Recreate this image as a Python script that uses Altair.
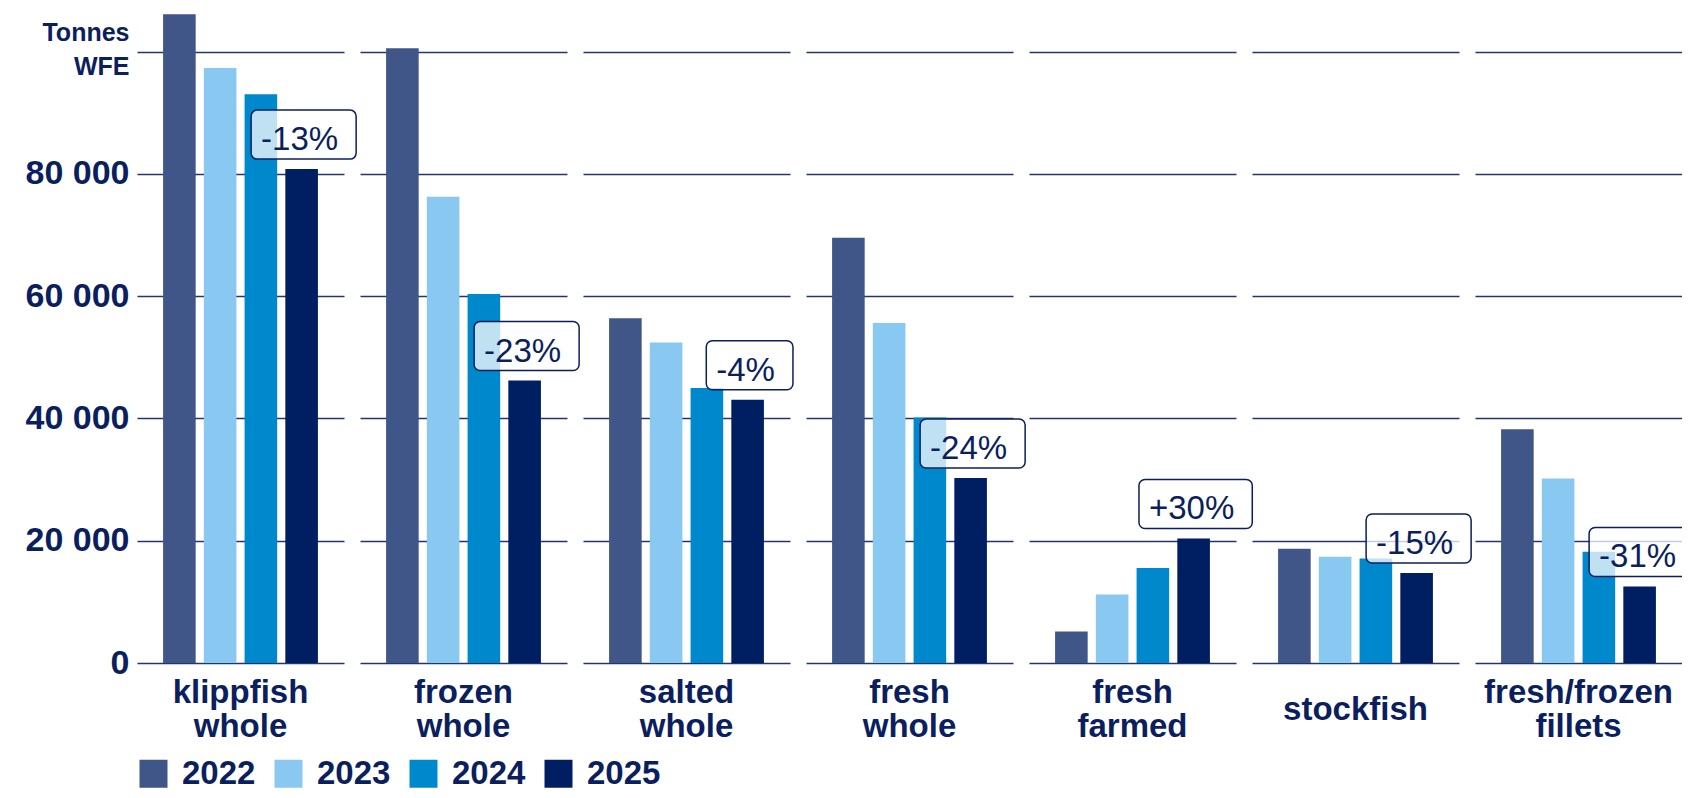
import altair as alt
import pandas as pd

categories = ["klippfish whole", "frozen whole", "salted whole", "fresh whole",
              "fresh farmed", "stockfish", "fresh/frozen fillets"]
years = ["2022", "2023", "2024", "2025"]
v2022 = [106100, 100550, 56400, 69540, 5170, 18690, 38240]
v2023 = [97290, 76260, 52420, 55590, 11220, 17380, 30180]
v2024 = [93030, 60350, 44960, 40160, 15530, 17100, 18200]
v2025 = [80770, 46200, 43050, 30250, 20370, 14710, 12520]
change_labels = ["-13%", "-23%", "-4%", "-24%", "+30%", "-15%", "-31%"]

colors = ["#405588", "#89c8f0", "#0088cc", "#001f63"]
NAVY = "#0b1f5e"
GRID = "#24346f"
FONT = "Liberation Sans"

# rounded label boxes sized from the label text width (Arial metrics)
em = {"-": 0.333, "+": 0.584, "%": 0.889}
def box_path(label, fs=33, pad=28, hh=24.5, r=6):
    w = sum(em.get(ch, 0.556) for ch in label) * fs + pad
    hw = w / 2
    return (f"M{-hw + r},{-hh} H{hw - r} A{r},{r} 0 0 1 {hw},{-hh + r} "
            f"V{hh - r} A{r},{r} 0 0 1 {hw - r},{hh} H{-hw + r} "
            f"A{r},{r} 0 0 1 {-hw},{hh - r} V{-hh + r} A{r},{r} 0 0 1 {-hw + r},{-hh} Z")

rows = []
for i, c in enumerate(categories):
    for y, vals in zip(years, [v2022, v2023, v2024, v2025]):
        is_last = y == years[-1]
        rows.append({"category": c, "year": y, "value": vals[i],
                     "label": change_labels[i] if is_last else None,
                     "path": box_path(change_labels[i]) if is_last else None})
df = pd.DataFrame(rows)
last = categories[-1]

x_enc = alt.X("year:N", sort=years, axis=None,
              scale=alt.Scale(paddingInner=0.2, paddingOuter=0.64))
y_enc = alt.Y("value:Q", title=None,
              scale=alt.Scale(domain=[0, 107120], nice=False),
              axis=alt.Axis(values=[0, 20000, 40000, 60000, 80000, 100000],
                            grid=True, gridColor=GRID, gridWidth=1.6,
                            domain=False, ticks=False, labelPadding=8,
                            labelFont=FONT, labelFontWeight="bold",
                            labelColor=NAVY, labelLineHeight=34,
                            labelFontSize={"condition": {"test": "datum.value == 100000", "value": 25},
                                           "value": 34},
                            labelOffset={"condition": {"test": "datum.value == 100000", "value": -19},
                                         "value": 0},
                            labelExpr="datum.value == 100000 ? ['Tonnes', 'WFE'] : replace(format(datum.value, ',d'), ',', ' ')"))

bars = alt.Chart().mark_bar().encode(
    x=x_enc,
    y=y_enc,
    color=alt.Color("year:N", sort=years,
                    scale=alt.Scale(domain=years, range=colors),
                    legend=alt.Legend(title=None, orient="none", direction="horizontal",
                                      legendX=0, legendY=749,
                                      symbolType="square", symbolSize=784,
                                      symbolStrokeWidth=0, labelFont=FONT,
                                      labelFontSize=33, labelFontWeight="bold",
                                      labelColor=NAVY, labelOffset=12,
                                      columnPadding=16, labelLimit=200)),
)

box_props = dict(filled=True, fill="white", fillOpacity=0.75, stroke=NAVY,
                 strokeWidth=1.5, size=4, opacity=1, xOffset=2, yOffset=-34.5)
boxes = alt.Chart().transform_filter(
    (alt.datum.year == years[-1]) & (alt.datum.category != last)
).mark_point(**box_props).encode(
    x=x_enc, y=y_enc, shape=alt.Shape("path:N", scale=None, legend=None)
)
boxes_last = alt.Chart().transform_filter(
    (alt.datum.year == years[-1]) & (alt.datum.category == last)
).mark_point(clip=True, **box_props).encode(
    x=x_enc, y=y_enc, shape=alt.Shape("path:N", scale=None, legend=None)
)
texts = alt.Chart().transform_filter(
    alt.datum.year == years[-1]
).mark_text(
    font=FONT, fontSize=33, color=NAVY, align="center", baseline="alphabetic",
    dx=-2, dy=-19
).encode(x=x_enc, y=y_enc, text="label:N")

layered = alt.layer(bars, boxes, boxes_last, texts).properties(width=207, height=655)

ZW = "\u200b"
header_expr = (
    f"length(split(datum.value, ' ')) > 1 ? "
    f"[split(datum.value, ' ')[0], '{ZW}', split(datum.value, ' ')[1]] : ['{ZW}', datum.value]"
)

chart = layered.facet(
    data=df,
    column=alt.Column("category:N", sort=categories, title=None,
                      header=alt.Header(labelOrient="bottom", labelFont=FONT,
                                        labelFontSize=33, labelFontWeight="bold",
                                        labelColor=NAVY, labelBaseline="middle",
                                        labelPadding=30, labelLineHeight=17,
                                        labelExpr=header_expr)),
    spacing=16,
    bounds="flush",
).properties(
    padding={"left": 17, "top": 0, "right": 0, "bottom": 0},
    background="white",
).configure_view(strokeWidth=0, stroke="transparent")

chart.save("out.html", embed_options={"renderer": "svg", "actions": False})
